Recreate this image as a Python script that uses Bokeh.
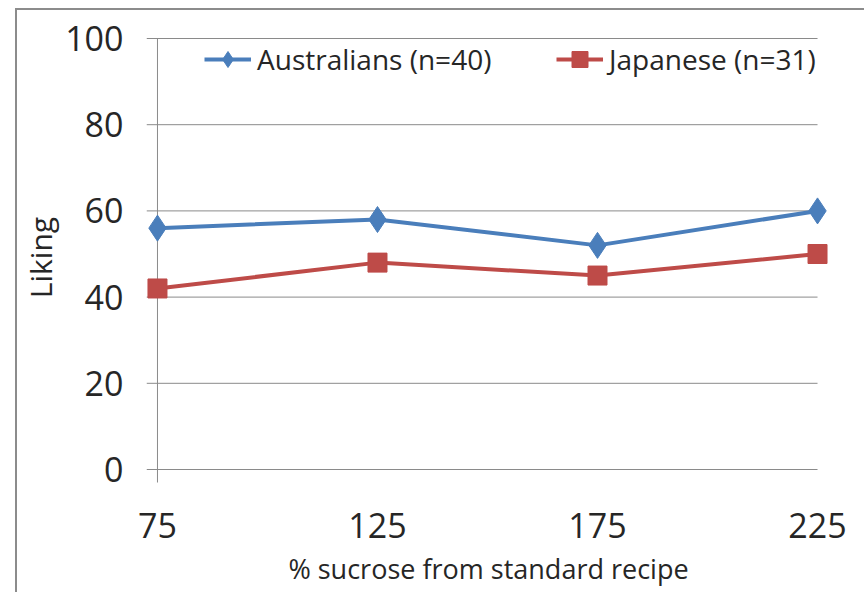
from bokeh.plotting import figure
from bokeh.models import Range1d, FixedTicker, Legend, LegendItem
from bokeh.embed import file_html
from bokeh.resources import INLINE

# Sweetness liking by sucrose level
sucrose = [75, 125, 175, 225]
australians = [56, 58, 52, 60]
japanese = [42, 48, 45, 50]
y_ticks = [0, 20, 40, 60, 80, 100]
x_tick_labels = {75: "75", 125: "125", 175: "175", 225: "225"}
series_names = ["Australians (n=40)", "Japanese (n=31)"]

BLUE = "#4a7ebb"
RED = "#be4b48"
GRID = "#8a8a8a"
TEXT = "#262626"
FONT = "Open Sans"

# canvas layout (pixels inside the figure)
W, H = 849, 584
BL, BR, BT, BB = 128, 36, 20, 110
FW, FH = W - BL - BR, H - BT - BB
# where the first / last category and 0 / 100 sit inside the frame
X0_PX, X1_PX = 11, 672
Y100_PX, Y0_PX = 8, 439
sx = (X1_PX - X0_PX) / (sucrose[-1] - sucrose[0])
sy = (Y0_PX - Y100_PX) / (y_ticks[-1] - y_ticks[0])

x_range = Range1d(sucrose[0] - X0_PX / sx, sucrose[-1] + (FW - X1_PX) / sx)
y_range = Range1d(y_ticks[0] - (FH - Y0_PX) / sy, y_ticks[-1] + Y100_PX / sy)

p = figure(width=W, height=H, x_range=x_range, y_range=y_range,
           output_backend="svg", toolbar_location=None,
           min_border_left=BL, min_border_right=BR,
           min_border_top=BT, min_border_bottom=BB,
           background_fill_color="white", border_fill_color="white",
           margin=(8, 0, 0, 15),
           styles={"border-left": "2px solid #8c8c8c",
                   "border-top": "2px solid #8c8c8c"})
p.outline_line_color = None
p.grid.visible = False

# horizontal gridlines, with their short outside tick on the left
tick_len = 11
grid_x0 = sucrose[0] - tick_len / sx
p.segment(x0=[grid_x0] * len(y_ticks), y0=y_ticks,
          x1=[sucrose[-1]] * len(y_ticks), y1=y_ticks,
          line_color=GRID, line_width=1)
# vertical value axis line, running slightly below zero
p.segment(x0=[sucrose[0]], y0=[y_ticks[0] - 13 / sy],
          x1=[sucrose[0]], y1=[y_ticks[-1]],
          line_color=GRID, line_width=1)

la = p.line(sucrose, australians, line_color=BLUE, line_width=4)
sa = p.scatter(sucrose, australians, marker="diamond", size=26,
               fill_color=BLUE, line_color=BLUE)
lj = p.line(sucrose, japanese, line_color=RED, line_width=4)
sj = p.scatter(sucrose, japanese, marker="square", size=19,
               fill_color=RED, line_color=RED)

# axes: labels only, lines are drawn above
yax = p.yaxis[0]
yax.ticker = FixedTicker(ticks=y_ticks)
yax.axis_line_color = None
yax.major_tick_line_color = None
yax.minor_tick_line_color = None
yax.major_tick_out = 0
yax.major_tick_in = 0
yax.major_label_standoff = 23
yax.major_label_text_font = FONT
yax.major_label_text_font_size = "34px"
yax.major_label_text_color = TEXT
yax.axis_label = "Liking"
yax.axis_label_text_font = FONT
yax.axis_label_text_font_size = "30px"
yax.axis_label_text_font_style = "normal"
yax.axis_label_text_color = TEXT
yax.axis_label_standoff = 1

xax = p.xaxis[0]
xax.ticker = FixedTicker(ticks=sucrose)
xax.major_label_overrides = x_tick_labels
xax.axis_line_color = None
xax.major_tick_line_color = None
xax.minor_tick_line_color = None
xax.major_tick_out = 0
xax.major_tick_in = 0
xax.major_label_standoff = 28
xax.major_label_text_font = FONT
xax.major_label_text_font_size = "34px"
xax.major_label_text_color = TEXT
xax.axis_label = "% sucrose from standard recipe"
xax.axis_label_text_font = FONT
xax.axis_label_text_font_size = "27px"
xax.axis_label_text_font_style = "normal"
xax.axis_label_text_color = TEXT
xax.axis_label_standoff = 9

# two legend entries placed side by side across the top
def add_legend(label, renderers, x):
    lg = Legend(items=[LegendItem(label=label, renderers=renderers)],
                location=(x, 405), orientation="horizontal",
                padding=0, margin=0, spacing=0,
                glyph_width=47, glyph_height=40, label_height=40,
                label_standoff=6, border_line_color=None,
                background_fill_alpha=0,
                label_text_font=FONT, label_text_font_size="28px",
                label_text_color=TEXT)
    p.add_layout(lg)

# legend glyphs start at page x 203 and 555
add_legend(series_names[0], [la, sa], 203 - 17 - BL)
add_legend(series_names[1], [lj, sj], 555 - 17 - BL)

open("out.html", "w").write(file_html(p, INLINE))
